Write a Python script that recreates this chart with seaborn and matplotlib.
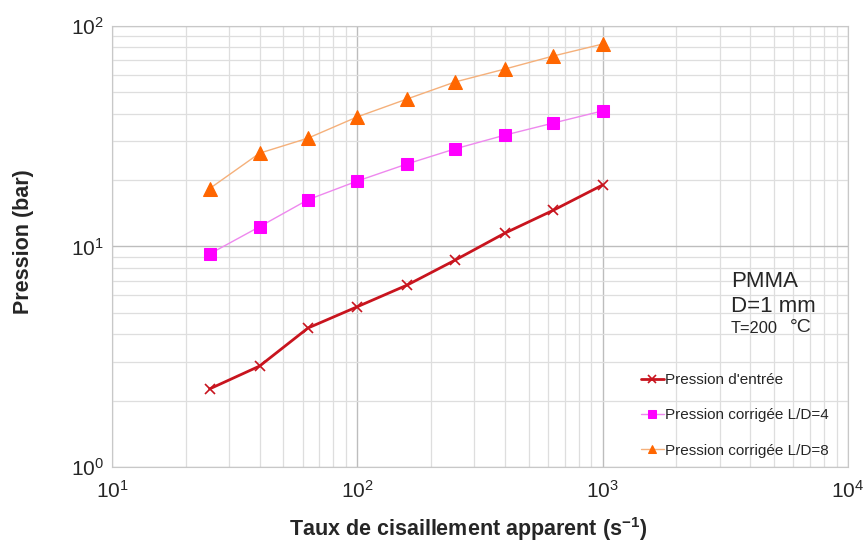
import numpy as np
import pandas as pd
import matplotlib
matplotlib.use("Agg")
import matplotlib.pyplot as plt
import matplotlib.ticker as mticker
import seaborn as sns

sns.set_style('white')
plt.rcParams['font.family'] = ['Liberation Sans', 'DejaVu Sans']
plt.rcParams['mathtext.fontset'] = 'custom'
plt.rcParams['mathtext.rm'] = 'Liberation Sans'
plt.rcParams['mathtext.bf'] = 'Liberation Sans:bold'

# données
taux = [25, 40, 63, 100, 160, 250, 400, 630, 1000]
p_entree = [2.26, 2.87, 4.27, 5.33, 6.69, 8.66, 11.5, 14.6, 19.0]
p_ld4 = [9.25, 12.3, 16.3, 19.8, 23.7, 27.7, 32.0, 36.3, 41.2]
p_ld8 = [18.3, 26.5, 31.0, 38.7, 46.7, 55.7, 63.8, 73.1, 82.8]

x_ticks = [1e1, 1e2, 1e3, 1e4]
x_ticklabels = [r'$\mathregular{10^{1}}$', r'$\mathregular{10^{2}}$',
                r'$\mathregular{10^{3}}$', r'$\mathregular{10^{4}}$']
y_ticks = [1e0, 1e1, 1e2]
y_ticklabels = [r'$\mathregular{10^{0}}$', r'$\mathregular{10^{1}}$',
                r'$\mathregular{10^{2}}$']

df = pd.DataFrame({'taux': taux, 'entree': p_entree, 'ld4': p_ld4, 'ld8': p_ld8})

fig = plt.figure(figsize=(8.66, 5.46), dpi=100)
ax = fig.add_axes([0.1293, 0.1447, 0.8497, 0.8077])

sns.lineplot(data=df, x='taux', y='entree', ax=ax, color='#c8141e', lw=2,
             marker='x', markersize=7, mew=1.2, mec='#c8141e',
             label="Pression d'entrée")
sns.lineplot(data=df, x='taux', y='ld4', ax=ax, color='#ee88ee', lw=1,
             marker='s', markersize=9, mfc='#ff00ff', mec='#ff00ff',
             label='Pression corrigée L/D=4')
sns.lineplot(data=df, x='taux', y='ld8', ax=ax, color='#f5b07a', lw=1,
             marker='^', markersize=10, mfc='#ff6600', mec='#ff6600',
             label='Pression corrigée L/D=8')

ax.set_xscale('log')
ax.set_yscale('log')
ax.set_xlim(10, 1e4)
ax.set_ylim(1, 100)

ax.xaxis.set_major_locator(mticker.FixedLocator(x_ticks))
ax.set_xticklabels(x_ticklabels, fontsize=15)
ax.yaxis.set_major_locator(mticker.FixedLocator(y_ticks))
ax.set_yticklabels(y_ticklabels, fontsize=15)
ax.xaxis.set_minor_locator(mticker.LogLocator(base=10, subs=np.arange(2, 10)))
ax.yaxis.set_minor_locator(mticker.LogLocator(base=10, subs=np.arange(2, 10)))
ax.xaxis.set_minor_formatter(mticker.NullFormatter())
ax.yaxis.set_minor_formatter(mticker.NullFormatter())
ax.tick_params(which='both', length=0)
ax.tick_params(axis='y', pad=6)
ax.tick_params(axis='x', pad=9)

ax.grid(True, which='major', color='#bdbdbd', lw=1)
ax.grid(True, which='minor', color='#dedede', lw=0.9)
ax.set_axisbelow(True)
for s in ax.spines.values():
    s.set_color('#c8c8c8')

ax.set_xlabel('Taux de cisaillement apparent (s$^{\\mathbf{-1}}$)',
              fontsize=15.5, fontweight='bold')
ax.xaxis.set_label_coords(0.484, -0.108)
ax.set_ylabel('Pression (bar)', fontsize=15.5, fontweight='bold')
ax.yaxis.set_label_coords(-0.106, 0.51)

# texte PMMA
ax.text(0.841, 0.4195, 'PMMA', transform=ax.transAxes, fontsize=16, va='center')
ax.text(0.841, 0.365, 'D=1 mm', transform=ax.transAxes, fontsize=16, va='center')
ax.text(0.841, 0.313, 'T=200', transform=ax.transAxes, fontsize=11.8, va='center')
ax.text(0.921, 0.317, '°C', transform=ax.transAxes, fontsize=14, va='center')

leg = ax.legend(loc='lower left', bbox_to_anchor=(0.70, -0.01), frameon=False,
                fontsize=11, handlelength=1.5, handletextpad=0.1, labelspacing=1.4)
for h in leg.legend_handles:
    h.set_markersize(6)

fig.savefig('out.png', dpi=100)
